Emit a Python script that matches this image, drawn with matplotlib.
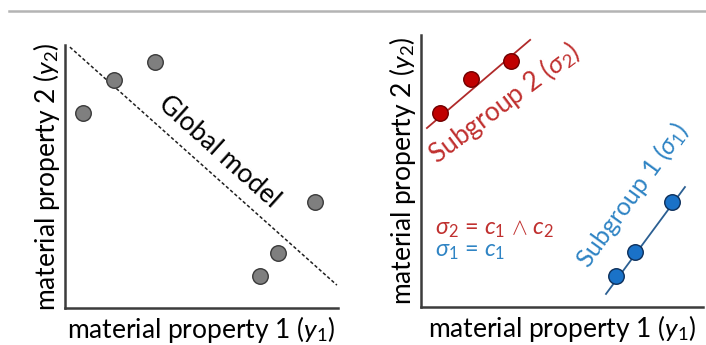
import matplotlib
matplotlib.use('Agg')
from matplotlib import pyplot as plt
from matplotlib.lines import Line2D

plt.rcParams['font.family'] = ['Lato', 'DejaVu Sans']
plt.rcParams['mathtext.fontset'] = 'custom'
plt.rcParams['mathtext.rm'] = 'Lato'
plt.rcParams['mathtext.it'] = 'Lato:italic'
plt.rcParams['mathtext.fallback'] = 'cm'

# global model: scattered samples and one fitted trend
global_x = [0.66, 1.79, 3.30, 9.16, 7.80, 7.14]
global_y = [7.41, 8.67, 9.35, 4.03, 2.09, 1.22]
global_fit_x = [0.18, 9.96]
global_fit_y = [9.92, 0.87]

# subgroups with their local trends
sub2_x = [0.67, 1.77, 3.19]
sub2_y = [7.13, 8.38, 9.04]
sub2_fit_x = [0.21, 3.87]
sub2_fit_y = [6.58, 9.82]

sub1_x = [6.91, 7.59, 8.90]
sub1_y = [1.14, 2.02, 3.86]
sub1_fit_x = [6.56, 9.36]
sub1_fit_y = [0.48, 4.41]

xlabel = 'material property 1 ($y_1$)'
ylabel = 'material property 2 ($y_2$)'

RED = '#c00000'
RED_TXT = '#c0302f'
BLUE = '#1a72c8'
BLUE_TXT = '#2f84c4'
SPINE = '#3c3c3c'
FS = 19
MS = 125

fig = plt.figure(figsize=(7.06, 3.45), dpi=100)

# thin rule across the top
fig.add_artist(Line2D([9 / 706, 1.0], [1 - 11 / 345, 1 - 11 / 345],
                      color='#b4b4b4', lw=1.8))


def style(ax):
    ax.set_xlim(0, 10)
    ax.set_ylim(0, 10)
    for s in ('top', 'right'):
        ax.spines[s].set_visible(False)
    for s in ('left', 'bottom'):
        ax.spines[s].set_color(SPINE)
        ax.spines[s].set_linewidth(1.8)
    ax.set_xticks([])
    ax.set_yticks([])
    ax.patch.set_alpha(0)


ax1 = fig.add_axes([65 / 706, 37 / 345, 273 / 706, 263 / 345])
style(ax1)
ax1.plot(global_fit_x, global_fit_y, ls=(0, (2.2, 1.5)), color='#202020', lw=1.1)
ax1.scatter(global_x, global_y, s=MS, color='#7f7f7f', edgecolor='#3a3a3a',
            linewidth=1.0, zorder=3, clip_on=False)
ax1.text(5.65, 5.95, 'Global model', rotation=-42, fontsize=FS,
         ha='center', va='center', rotation_mode='anchor')
ax1.set_xlabel(xlabel, fontsize=FS, labelpad=4)
ax1.set_ylabel(ylabel, fontsize=FS, labelpad=2)

ax2 = fig.add_axes([421 / 706, 38 / 345, 282 / 706, 272 / 345])
style(ax2)
ax2.plot(sub2_fit_x, sub2_fit_y, color='#b02a2a', lw=1.3)
ax2.scatter(sub2_x, sub2_y, s=MS, color=RED, edgecolor='#700000',
            linewidth=1.0, zorder=3, clip_on=False)
ax2.plot(sub1_fit_x, sub1_fit_y, color='#2b5f92', lw=1.3)
ax2.scatter(sub1_x, sub1_y, s=MS, color=BLUE, edgecolor='#0d2f5a',
            linewidth=1.0, zorder=3, clip_on=False)
ax2.text(2.95, 7.5, r'Subgroup 2 ($\sigma_2$)', rotation=37, fontsize=FS,
         color=RED_TXT, ha='center', va='center', rotation_mode='anchor')
ax2.text(7.5, 4.1, r'Subgroup 1 ($\sigma_1$)', rotation=54, fontsize=18,
         color=BLUE_TXT, ha='center', va='center', rotation_mode='anchor')
ax2.text(0.5, 2.85, r'$\sigma_2$ = $c_1$ $\wedge$ $c_2$', fontsize=17,
         color=RED_TXT, ha='left', va='center')
ax2.text(0.5, 2.05, r'$\sigma_1$ = $c_1$', fontsize=17,
         color=BLUE_TXT, ha='left', va='center')
ax2.set_xlabel(xlabel, fontsize=FS, labelpad=4)
ax2.set_ylabel(ylabel, fontsize=FS, labelpad=2)

plt.savefig('out.png', dpi=100)
